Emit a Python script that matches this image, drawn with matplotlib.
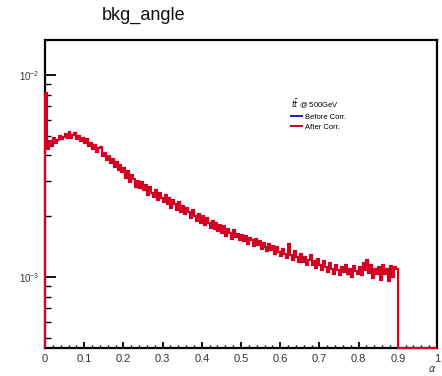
import matplotlib
matplotlib.use("Agg")
import matplotlib.pyplot as plt
import matplotlib.ticker as mticker
import numpy as np

plt.rcParams['font.family'] = ['Liberation Sans', 'DejaVu Sans']

# histogram of the angle alpha, 200 bins on [0, 1]  (values in 1e-3)
bin_edges = np.linspace(0.0, 1.0, 201)
after_corr = np.array([
    8.1, 4.3, 4.7, 4.45, 4.9, 4.6, 4.75, 5.0, 4.8, 4.95,
    5.1, 4.85, 5.2, 4.9, 5.05, 5.15, 4.8, 5.0, 4.7, 4.85,
    4.6, 4.8, 4.45, 4.6, 4.3, 4.5, 4.15, 4.35, 4.4, 3.95,
    4.1, 3.8, 3.95, 3.65, 3.85, 3.5, 3.7, 3.4, 3.6, 3.3,
    3.45, 3.1, 3.35, 2.95, 3.2, 3.05, 2.8, 3.0, 2.75, 2.95,
    2.7, 2.85, 2.55, 2.8, 2.6, 2.5, 2.7, 2.4, 2.6, 2.45,
    2.35, 2.55, 2.3, 2.45, 2.2, 2.4, 2.3, 2.15, 2.35, 2.1,
    2.25, 2.05, 2.2, 2.1, 1.95, 2.15, 2.0, 1.9, 2.05, 1.85,
    2.0, 1.8, 1.95, 1.85, 1.75, 1.9, 1.72, 1.85, 1.68, 1.8,
    1.65, 1.78, 1.6, 1.72, 1.66, 1.55, 1.7, 1.58, 1.64, 1.52,
    1.62, 1.5, 1.6, 1.46, 1.56, 1.52, 1.42, 1.55, 1.44, 1.5,
    1.38, 1.48, 1.4, 1.34, 1.46, 1.36, 1.42, 1.3, 1.4, 1.33,
    1.27, 1.38, 1.3, 1.24, 1.45, 1.28, 1.22, 1.34, 1.25, 1.19,
    1.3, 1.18, 1.25, 1.14, 1.22, 1.28, 1.15, 1.2, 1.11, 1.23,
    1.15, 1.08, 1.2, 1.12, 1.06, 1.17, 1.1, 1.04, 1.14, 1.08,
    1.02, 1.12, 1.06, 1.15, 1.03, 1.1, 1.0, 1.13, 1.07, 1.04,
    1.12, 1.02, 1.17, 1.08, 1.22, 1.05, 1.14, 0.99, 1.1, 1.04,
    1.12, 0.97, 1.15, 1.03, 1.1, 0.95, 1.13, 1.0, 1.12, 1.09,
    0, 0, 0, 0, 0, 0, 0, 0, 0, 0,
    0, 0, 0, 0, 0, 0, 0, 0, 0, 0,
]) * 1e-3
# the correction changes nothing visible: both curves overlap
before_corr = after_corr.copy()

y_min, y_max = 4.45e-4, 1.49e-2

fig = plt.figure(figsize=(4.42, 3.76), dpi=100)
ax = fig.add_axes([0.1018, 0.0745, 0.8869, 0.8191])

ax.stairs(np.clip(before_corr, y_min, None), bin_edges, baseline=y_min,
          color='#1a1acc', linewidth=1.5, zorder=3, clip_on=False,
          label='Before Corr.')
ax.stairs(np.clip(after_corr, y_min, None), bin_edges, baseline=y_min,
          color='#d40022', linewidth=1.5, zorder=3.1, clip_on=False,
          label='After Corr.')

ax.set_yscale('log')
ax.set_xlim(0, 1)
ax.set_ylim(y_min, y_max)

ax.xaxis.set_major_locator(mticker.MultipleLocator(0.1))
ax.xaxis.set_minor_locator(mticker.MultipleLocator(0.02))
ax.xaxis.set_major_formatter(mticker.FuncFormatter(lambda v, p: '%g' % round(v, 2)))
ax.yaxis.set_major_locator(mticker.LogLocator(base=10))
ax.yaxis.set_minor_locator(mticker.LogLocator(base=10, subs=np.arange(2, 10)))
ax.yaxis.set_minor_formatter(mticker.NullFormatter())

ax.tick_params(axis='both', which='major', direction='in', color='black',
               top=False, right=False, width=1.3)
ax.tick_params(axis='both', which='minor', direction='in', color='black',
               top=False, right=False, width=1.0)
ax.tick_params(axis='x', which='major', length=4.5, labelsize=8,
               pad=4, labelcolor='#333333')
ax.tick_params(axis='x', which='minor', length=2.2)
ax.tick_params(axis='y', which='major', length=8, labelsize=7,
               pad=4, labelcolor='#333333')
ax.tick_params(axis='y', which='minor', length=4)
for s in ax.spines.values():
    s.set_linewidth(1.6)

fig.text(432 / 442, 1 - 369 / 376, r'$\alpha$', ha='center', va='center',
         fontsize=7, color='#333333')

fig.text(144 / 442, 1 - 15 / 376, 'bkg_angle', ha='center', va='center',
         fontsize=13, color='#111111')

leg = ax.legend(loc='upper left', bbox_to_anchor=(286 / 442, 1 - 92 / 376),
                bbox_transform=fig.transFigure, frameon=False, fontsize=5.5,
                title=r'$t\bar{t}$ @ 500GeV', title_fontsize=5.5,
                handlelength=1.4, handletextpad=0.4, labelspacing=0.35,
                borderpad=0.2)
leg._legend_box.align = 'left'
for line in leg.get_lines():
    line.set_linewidth(1.4)

fig.savefig('out.png', dpi=100)
